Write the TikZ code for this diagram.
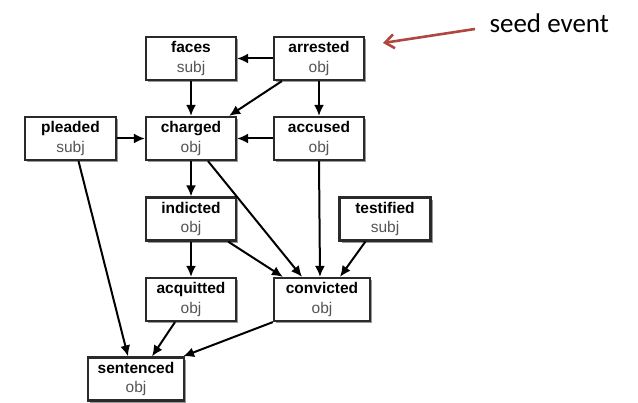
\documentclass[tikz,border=0pt]{standalone}
\usepackage{fontspec}
\setmainfont{Liberation Sans}
\newfontfamily\calfont{Carlito}
\usetikzlibrary{arrows.meta,shadows}
\definecolor{boxline}{HTML}{2A2A2A}
\definecolor{subgray}{HTML}{555555}
\definecolor{seedred}{HTML}{B0463F}
\tikzset{
  evbox/.style={draw=boxline, line width=2.2pt, fill=white, minimum width=90pt, minimum height=43pt,
    inner sep=0pt, align=center, font=\fontsize{15.5}{19.5}\selectfont,
    drop shadow={shadow xshift=2pt, shadow yshift=-2.5pt, fill=black, opacity=0.4}},
  edge/.style={-{Latex[length=11pt,width=10pt]}, line width=2pt, draw=black},
}
\newcommand{\evt}[2]{\textbf{#1}\\\textcolor{subgray}{#2}}
\begin{document}
\begin{tikzpicture}[x=1pt,y=1pt]
\useasboundingbox (0,0) rectangle (638,403);
\node[evbox] (faces) at (191,344.5) {\evt{faces}{subj}};
\node[evbox] (arrested) at (319,344.5) {\evt{arrested}{obj}};
\node[evbox, minimum width=91pt] (pleaded) at (70.5,264.5) {\evt{pleaded}{subj}};
\node[evbox] (charged) at (191,264.5) {\evt{charged}{obj}};
\node[evbox] (accused) at (319,264.5) {\evt{accused}{obj}};
\node[evbox] (indicted) at (191,184) {\evt{indicted}{obj}};
\node[evbox, minimum width=91pt] (testified) at (385,184) {\evt{testified}{subj}};
\node[evbox] (acquitted) at (191,103.5) {\evt{acquitted}{obj}};
\node[evbox, minimum width=96pt] (convicted) at (322,103.5) {\evt{convicted}{obj}};
\node[evbox, minimum width=96pt] (sentenced) at (136,24) {\evt{sentenced}{obj}};
\node[font=\calfont\fontsize{27}{30}\selectfont, anchor=west] (seed) at (486,380) {seed event};
\coordinate (seedtail) at (475,374);
\coordinate (seedtip) at (383,360);
\draw[-{Straight Barb[length=9pt,width=14pt]}, line width=2.6pt, draw=seedred] (seedtail) -- (seedtip);
% edges
\draw[edge] (arrested.west) -- (faces.east);
\draw[edge] (faces.south) -- (charged.north);
\draw[edge] ([xshift=9pt]arrested.south west) -- ([xshift=-8pt]charged.north east);
\draw[edge] (arrested.south) -- (accused.north);
\draw[edge] (pleaded.east) -- (charged.west);
\draw[edge] (accused.west) -- (charged.east);
\draw[edge] (charged.south) -- (indicted.north);
\draw[edge] ([xshift=17pt]charged.south) -- ([xshift=-20pt]convicted.north);
\draw[edge] (accused.south) -- ([xshift=-2pt]convicted.north);
\draw[edge] ([xshift=-9pt]indicted.south east) -- ([xshift=10pt]convicted.north west);
\draw[edge] ([xshift=27pt]testified.south west) -- ([xshift=18pt]convicted.north);
\draw[edge] (indicted.south) -- (acquitted.north);
\draw[edge] ([xshift=8pt]pleaded.south) -- ([xshift=-8pt]sentenced.north);
\draw[edge] ([xshift=-16pt]acquitted.south) -- ([xshift=16pt]sentenced.north);
\draw[edge] (convicted.south west) -- ([xshift=-2pt]sentenced.north east);
\end{tikzpicture}
\end{document}
